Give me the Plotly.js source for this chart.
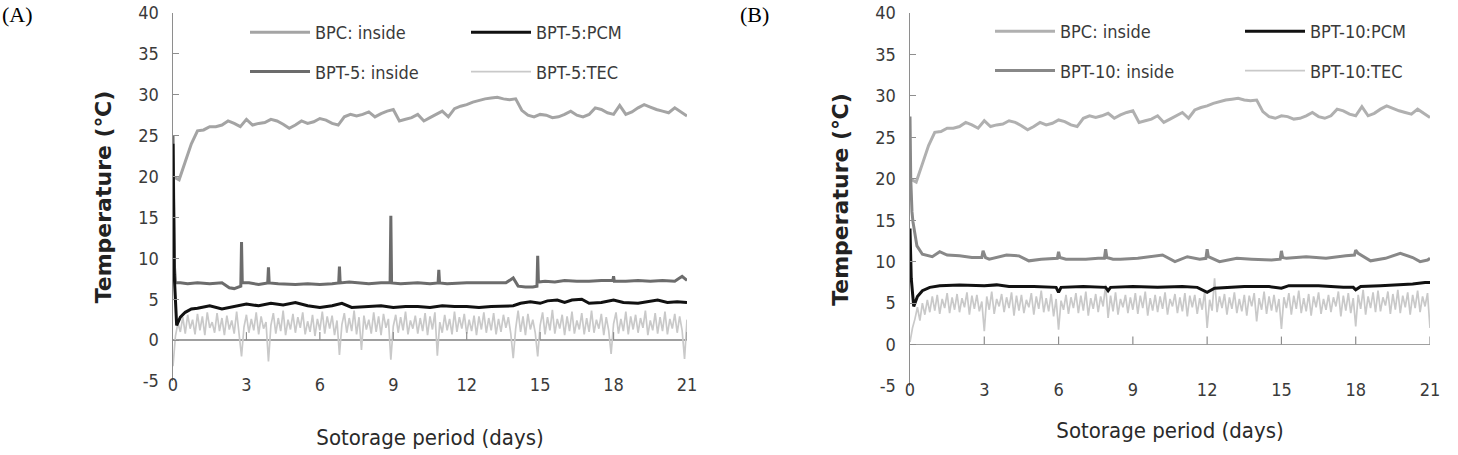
<!DOCTYPE html>
<html>
<head>
<meta charset="utf-8">
<script src="https://cdn.plot.ly/plotly-3.0.1.min.js"></script>
<style>html,body{margin:0;padding:0;background:#fff;}#chart{width:1458px;height:455px;}</style>
</head>
<body>
<div id="chart"></div>
<script>
// ---------- data ----------
const dayTicks = [0, 3, 6, 9, 12, 15, 18, 21];
const yTicks = [-5, 0, 5, 10, 15, 20, 25, 30, 35, 40];

// BPC: inside (same control box in both panels), every 0.25 day
const bpcStep = 0.25;
const bpcInside = [20.0,19.6,21.8,24.0,25.6,25.7,26.1,26.1,26.3,26.8,26.5,26.1,27.0,26.3,26.5,26.6,
  27.0,26.8,26.4,25.9,26.3,26.8,26.5,26.7,27.1,26.9,26.5,26.3,27.3,27.6,27.4,27.6,27.9,27.3,27.7,28.0,
  28.2,26.8,27.0,27.2,27.6,26.8,27.2,27.6,28.0,27.3,28.3,28.6,28.8,29.1,29.3,29.5,29.6,29.7,29.5,29.4,
  29.5,28.1,27.5,27.3,27.6,27.5,27.2,27.3,27.6,28.0,27.5,27.3,27.6,28.4,28.2,27.8,27.6,28.7,27.6,27.9,
  28.4,28.8,28.5,28.2,28.0,27.8,28.4,27.9,27.4];

// (A) BPT-5
const bpt5InsideDays = [0,0.03,0.06,0.1,0.3,0.6,1.0,1.5,2.0,2.3,2.5,2.77,2.8,2.83,3.1,3.5,3.87,3.9,3.93,4.3,
  5.0,5.5,6.0,6.5,6.77,6.8,6.83,7.2,7.5,8.0,8.5,8.87,8.9,8.93,9.3,10.0,10.5,10.83,10.86,10.89,11.2,12.0,
  13.0,13.6,13.9,14.1,14.4,14.7,14.87,14.9,14.93,15.2,15.6,16.0,16.5,17.0,17.5,17.97,18.0,18.03,18.5,
  19.0,19.5,20.0,20.5,20.8,21.0];
const bpt5Inside = [25.0,15.0,9.0,7.0,7.0,6.9,7.0,6.9,7.0,6.4,6.3,6.6,12.0,7.0,7.0,6.8,7.0,8.9,7.0,6.9,
  6.8,6.9,6.8,6.9,7.0,9.0,7.0,7.1,7.0,6.9,7.0,7.0,15.2,7.0,6.9,7.0,6.9,7.0,8.6,7.0,6.9,7.0,
  7.0,7.0,7.6,6.6,6.5,6.5,6.6,10.3,7.1,7.2,7.1,7.3,7.2,7.2,7.3,7.3,7.8,7.2,7.2,
  7.3,7.2,7.3,7.2,7.8,7.3];

const bpt5PcmDays = [0,0.05,0.15,0.3,0.5,0.75,1.0,1.5,2.0,2.5,3.0,3.5,4.0,4.5,5.0,5.5,6.0,6.5,6.9,7.3,
  8.0,8.5,9.0,9.5,10.0,10.5,11.0,11.5,12.0,12.5,13.0,13.5,13.9,14.2,14.6,15.0,15.3,15.7,16.0,16.3,16.7,
  17.0,17.5,18.0,18.4,19.0,19.4,19.8,20.2,20.6,21.0];
const bpt5Pcm = [24.0,8.0,1.8,2.8,3.4,3.8,3.9,4.2,3.8,4.1,4.4,4.2,4.5,4.3,4.6,4.2,4.0,4.2,4.5,4.0,
  4.1,4.2,4.0,4.1,4.1,4.0,4.2,4.1,4.1,4.0,4.1,4.2,4.2,4.5,4.7,4.5,4.8,4.9,4.6,4.9,5.0,
  4.5,4.6,4.9,4.6,4.5,4.7,4.9,4.6,4.7,4.6];

// TEC logger, every 0.1 day
const tecStep = 0.1;
const bpt5Tec = [-3.2,0.5,2.1,1.0,2.8,0.8,3.1,1.4,2.5,0.7,3.2,1.2,2.9,0.6,3.4,1.5,2.2,0.9,3.3,1.1,
  2.7,0.6,3.0,1.3,2.4,0.8,3.5,1.0,-2.0,1.6,3.1,0.9,2.6,1.2,3.4,0.7,2.9,1.4,2.2,-2.6,
  1.8,3.3,0.8,2.7,1.1,3.6,0.6,2.5,1.3,3.2,0.9,2.8,1.5,3.4,0.7,2.3,1.0,3.1,0.5,2.6,
  1.2,3.5,0.8,2.9,1.4,3.0,0.6,2.4,-1.8,1.9,3.3,0.9,2.7,1.1,3.6,0.7,2.8,-1.2,3.0,1.3,
  2.5,0.8,3.4,1.0,2.9,0.6,3.2,1.5,2.6,-2.4,1.7,3.1,0.9,2.8,1.2,3.5,0.7,2.4,1.4,3.0,
  0.8,2.7,1.1,3.3,0.6,2.9,1.3,3.4,-1.9,2.2,0.9,3.1,1.2,2.6,0.7,3.5,1.0,2.8,1.4,3.2,
  0.8,2.5,1.1,3.0,0.6,2.9,1.3,3.4,0.9,2.7,1.2,3.3,0.7,2.6,1.0,3.1,1.5,2.8,0.8,-2.2,
  1.4,3.6,1.0,2.9,0.6,3.2,1.3,2.5,0.9,-2.0,1.8,3.4,0.7,2.8,1.2,3.7,0.8,2.6,1.4,3.1,
  0.6,2.9,1.1,3.5,0.8,2.4,1.3,3.3,0.7,2.7,1.0,3.6,0.9,2.5,1.4,3.2,0.6,2.8,1.2,-1.7,
  2.0,3.4,0.8,2.6,1.1,3.5,0.7,2.9,1.3,3.1,0.9,2.7,1.5,3.6,0.6,2.4,1.2,3.3,0.8,2.8,
  1.1,3.5,0.7,2.6,1.4,3.2,0.9,2.9,1.2,-2.3,2.5];

// (B) BPT-10
const bpt10InsideDays = [0,0.03,0.08,0.12,0.28,0.5,0.9,1.2,1.5,2.0,2.5,2.9,2.95,3.05,3.2,3.9,4.4,4.8,5.3,5.8,
  5.95,6.0,6.05,6.3,7.1,7.6,7.85,7.9,7.95,8.2,8.5,9.2,10.2,10.7,11.2,11.7,11.95,12.0,12.05,12.5,13.2,
  13.8,14.6,14.95,15.0,15.05,15.2,16.0,16.8,17.6,17.95,18.0,18.1,18.6,19.2,19.8,20.3,20.6,20.9,21.0];
const bpt10Inside = [27.5,20.0,16.0,14.8,11.9,10.9,10.6,11.2,10.8,10.7,10.5,10.5,11.3,10.5,10.3,10.8,10.7,10.1,10.3,10.4,
  10.4,11.2,10.5,10.3,10.3,10.4,10.4,11.5,10.5,10.3,10.3,10.4,10.8,10.0,10.6,10.3,10.4,11.5,10.6,10.0,10.4,
  10.3,10.2,10.3,11.3,10.5,10.4,10.6,10.4,10.7,10.8,11.4,11.0,10.1,10.4,11.0,10.5,10.0,10.2,10.4];

const bpt10PcmDays = [0,0.05,0.15,0.3,0.5,0.8,1.2,2.0,3.0,3.5,4.0,5.0,5.9,6.0,6.1,7.0,7.9,8.0,8.1,9.0,10.0,
  11.0,11.6,12.0,12.3,13.0,13.5,14.5,15.0,15.3,16.5,17.5,17.9,18.0,18.2,19.0,19.6,20.3,20.8,21.0];
const bpt10Pcm = [14.0,8.0,4.6,5.8,6.5,6.9,7.1,7.2,7.1,7.2,7.0,7.0,6.9,6.3,6.9,7.0,6.9,6.5,6.9,7.0,6.9,
  7.0,6.9,6.3,6.8,6.9,7.0,7.0,6.8,7.1,7.1,6.9,6.9,6.6,7.0,7.1,7.2,7.3,7.5,7.5];

const bpt10Tec = [0.3,2.0,3.1,4.5,2.9,5.0,3.6,5.4,3.9,5.8,4.1,6.0,3.7,5.5,4.4,6.2,3.8,5.7,4.2,6.1,
  3.9,5.6,4.5,6.3,3.6,5.9,4.3,6.0,4.0,5.2,1.6,5.8,4.2,6.4,3.7,5.5,4.6,6.1,3.9,5.7,
  4.4,6.3,3.5,5.9,4.1,6.0,3.8,5.4,4.5,6.2,3.6,5.8,4.3,6.5,3.9,5.6,4.0,6.1,3.4,5.5,
  1.8,5.3,4.2,6.0,3.7,5.7,4.4,6.2,3.8,5.9,4.1,6.4,3.5,5.6,4.3,6.1,3.9,5.8,4.6,7.2,
  3.2,5.9,4.0,6.3,3.6,5.5,4.5,6.0,3.8,5.7,4.2,6.2,3.7,5.9,4.4,6.4,3.5,5.6,4.1,6.0,
  3.9,5.8,4.3,6.3,3.6,5.5,4.6,6.1,3.8,5.7,4.0,6.2,3.4,5.9,4.5,6.0,3.7,5.6,4.2,6.4,
  2.0,5.4,4.1,8.0,3.9,5.8,4.4,6.1,3.6,5.7,4.3,6.3,3.8,5.5,4.0,6.0,3.5,5.9,4.6,6.2,
  2.8,5.6,4.2,6.4,3.7,5.8,4.1,6.0,3.9,5.5,1.9,5.7,4.4,6.2,3.6,5.9,4.3,6.5,3.8,5.6,
  4.0,6.1,3.5,5.8,4.5,6.3,3.7,5.5,4.2,6.0,3.9,5.7,4.6,6.4,3.4,5.9,4.1,6.2,3.8,5.6,
  2.2,6.0,4.3,6.6,3.6,5.8,4.4,6.3,3.9,6.5,4.0,5.7,4.7,6.4,3.7,6.1,4.2,6.6,3.8,5.9,
  4.5,6.3,3.6,6.0,4.4,6.5,3.9,5.8,4.6,6.2,2.0];

const panelLabels = ['(A)', '(B)'];
const xTitle = 'Sotorage period (days)';
const yTitle = 'Temperature (℃)';

// ---------- helpers ----------
const grid = (n, step) => Array.from({length: n}, (_, i) => +(i * step).toFixed(3));

const NARROW = '"Liberation Sans Narrow", "DejaVu Sans Condensed", "Arial Narrow", sans-serif';
const TXT = '#3a3a3a';
const AXC = '#8e8e8e';

function line(x, y, name, color, width, xa, ya, legend, rank) {
  return {x, y, name, type: 'scatter', mode: 'lines', xaxis: xa, yaxis: ya, legend, legendrank: rank,
    legendgroup: name, line: {color, width}, hoverinfo: 'skip'};
}

const traces = [
  // panel A
  line(grid(bpt5Tec.length, tecStep), bpt5Tec, 'BPT-5:TEC', '#c9c9c9', 1.7, 'x', 'y', 'legend2', 2),
  line(grid(bpcInside.length, bpcStep), bpcInside, 'BPC: inside', '#a4a4a4', 3, 'x', 'y', 'legend', 1),
  line(bpt5InsideDays, bpt5Inside, 'BPT-5: inside', '#6c6c6c', 3, 'x', 'y', 'legend', 2),
  line(bpt5PcmDays, bpt5Pcm, 'BPT-5:PCM', '#111111', 3, 'x', 'y', 'legend2', 1),
  // panel B
  line(grid(bpt10Tec.length, tecStep), bpt10Tec, 'BPT-10:TEC', '#c9c9c9', 1.7, 'x2', 'y2', 'legend4', 2),
  line(grid(bpcInside.length, bpcStep), bpcInside, 'BPC: inside', '#b0b0b0', 3, 'x2', 'y2', 'legend3', 1),
  line(bpt10InsideDays, bpt10Inside, 'BPT-10: inside', '#888888', 3, 'x2', 'y2', 'legend3', 2),
  line(bpt10PcmDays, bpt10Pcm, 'BPT-10:PCM', '#111111', 3, 'x2', 'y2', 'legend4', 1),
];

const W = 1458, H = 455;
const px = v => v / W, py = v => 1 - v / H;

function xAxis(domain, anchor, standoff) {
  return {domain, anchor, range: [0, 21], tickvals: dayTicks, ticktext: dayTicks.map(String),
    showline: false, ticks: '', showgrid: false, zeroline: false, fixedrange: true,
    tickfont: {family: NARROW, size: 18, color: TXT}, ticklabelstandoff: -9,
    title: {text: xTitle, font: {family: NARROW, size: 22, color: '#2a2a2a'}, standoff}};
}
function yAxis(domain, anchor) {
  return {domain, anchor, range: [-5, 40], tickvals: yTicks, ticktext: yTicks.map(String),
    showline: true, linecolor: AXC, linewidth: 1.5, ticks: 'inside', ticklen: 6, tickcolor: AXC, tickwidth: 1.2,
    showgrid: false, zeroline: true, zerolinecolor: '#a0a0a0', zerolinewidth: 1.5, fixedrange: true,
    tickfont: {family: NARROW, size: 18, color: TXT}, ticklabelstandoff: 9,
    title: {text: yTitle, font: {family: '"DejaVu Sans", sans-serif', size: 22, color: '#222', weight: 'bold'}, standoff: 20}};
}

const shapes = [];
[['x', 'y'], ['x2', 'y2']].forEach(([xa, ya]) => {
  dayTicks.slice(1).forEach(t => shapes.push({type: 'line', xref: xa, yref: ya, x0: t, x1: t,
    ysizemode: 'pixel', yanchor: 0, y0: 0, y1: 8, line: {color: AXC, width: 1.2}}));
});

function legend(xpix, ypix) {
  return {x: px(xpix), y: py(ypix), xanchor: 'left', yanchor: 'top', orientation: 'v',
    bgcolor: 'rgba(0,0,0,0)', borderwidth: 0, tracegroupgap: 13, itemwidth: 60,
    traceorder: 'grouped', font: {family: NARROW, size: 18, color: TXT}};
}

const layout = {
  width: W, height: H, margin: {l: 0, r: 0, t: 0, b: 0}, paper_bgcolor: '#fff', plot_bgcolor: '#fff',
  showlegend: true,
  xaxis: xAxis([px(173), px(687)], 'y', 35),
  yaxis: yAxis([py(381), py(13)], 'x'),
  xaxis2: xAxis([px(910), px(1430)], 'y2', 23),
  yaxis2: yAxis([py(386), py(13)], 'x2'),
  legend: legend(245, 14),
  legend2: legend(466, 14),
  legend3: legend(990, 13),
  legend4: legend(1240, 13),
  shapes,
  annotations: [
    {text: panelLabels[0], xref: 'paper', yref: 'paper', x: 0, y: 1, xanchor: 'left', yanchor: 'top', showarrow: false,
      font: {family: '"Liberation Serif", serif', size: 22, color: '#000'}, yshift: 0},
    {text: panelLabels[1], xref: 'paper', yref: 'paper', x: px(738), y: 1, xanchor: 'left', yanchor: 'top', showarrow: false,
      font: {family: '"Liberation Serif", serif', size: 22, color: '#000'}, yshift: 0},
  ],
};

Plotly.newPlot('chart', traces, layout, {staticPlot: true, displayModeBar: false});
</script>
</body>
</html>
